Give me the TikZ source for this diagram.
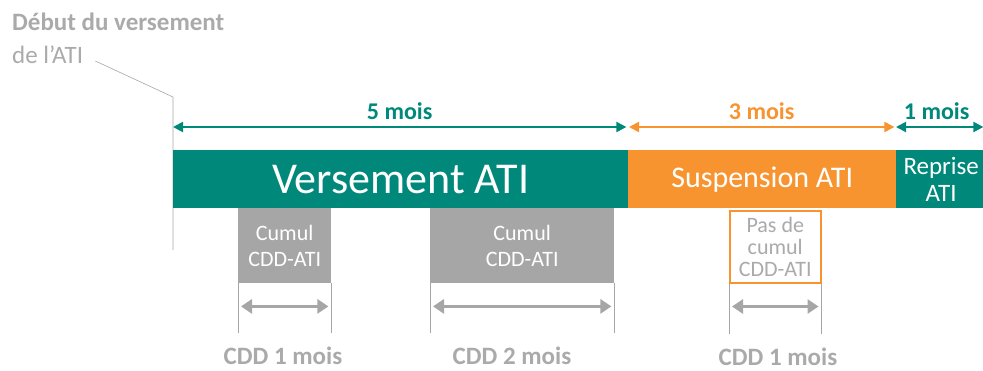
\documentclass[tikz,border=0pt]{standalone}
\usepackage{fontspec}
\setmainfont{Carlito}
\usetikzlibrary{arrows.meta,positioning}
\definecolor{atiteal}{RGB}{0,137,123}
\definecolor{atiorange}{RGB}{247,148,48}
\definecolor{atigray}{RGB}{166,166,166}
\definecolor{atitext}{RGB}{170,170,170}
\newcommand{\fs}[2]{\fontsize{#1}{#2}\selectfont}

\begin{document}
\begin{tikzpicture}[x=1pt, y=-1pt, >={Triangle[length=10pt,width=10pt]},
  bar/.style={inner sep=0pt, minimum height=58pt, text=white, align=center, anchor=north west},
  cumulbox/.style={inner sep=0pt, minimum height=75pt, fill=atigray, text=white, align=center, anchor=north west, font=\fs{22}{26}},
  span/.style={<->, line width=2pt},
  cdd/.style={{Triangle[length=11pt,width=14pt]}-{Triangle[length=11pt,width=14pt]}, atigray, line width=3pt, shorten <=3pt, shorten >=3pt},
  tick/.style={atigray, line width=0.6pt},
  mois/.style={above, font=\fs{24}{28}\bfseries, inner sep=2pt},
  cddlabel/.style={text=atitext, font=\fs{25}{28}\bfseries, inner sep=0pt}
]
  \useasboundingbox (0,0) rectangle (983,370);

  % Start of payment
  \node[anchor=west, text=atitext, font=\fs{25}{28}\bfseries, inner sep=0pt] (debut) at (12,22) {Début du versement};
  \node[anchor=west, text=atitext, font=\fs{25}{28}, inner sep=0pt] (delati) at (12,55) {de l’ATI};
  \coordinate (coude) at (173,97);
  \draw[tick] ([xshift=12pt,yshift=-6pt]delati.east) -- (coude) -- (173,250);

  % The three periods
  \node[bar, fill=atiteal, minimum width=455pt, font=\fs{44}{48}] (versement) at (173,150) {Versement ATI};
  \node[bar, fill=atiorange, minimum width=268pt, font=\fs{30}{34}] (suspension) at (628,150) {Suspension ATI};
  \node[bar, fill=atiteal, minimum width=90pt, font=\fs{25}{27}] (reprise) at (896,150) {Reprise\\ATI};

  % Durations above
  \draw[span, atiteal] ([yshift=23pt]versement.north west) -- ([yshift=23pt,xshift=-2pt]versement.north east)
    node[mois, midway, text=atiteal, yshift=4pt] {5 mois};
  \draw[span, atiorange] ([yshift=23pt,xshift=1pt]suspension.north west) -- ([yshift=23pt,xshift=-2pt]suspension.north east)
    node[mois, midway, text=atiorange, yshift=4pt] {3 mois};
  \draw[span, atiteal] ([yshift=23pt]reprise.north west) -- ([yshift=23pt,xshift=-3pt]reprise.north east)
    node[mois, midway, text=atiteal, yshift=4pt, xshift=-3pt] {1 mois};

  % Fixed-term contracts
  \node[cumulbox, minimum width=93pt] (cdd1) at (238,208) {Cumul\\CDD-ATI};
  \node[cumulbox, minimum width=184pt] (cdd2) at (430,208) {Cumul\\CDD-ATI};
  \node[cumulbox, minimum width=91pt, minimum height=72pt, fill=white, draw=atiorange, line width=1.5pt,
    text=atitext, font=\fs{22}{22}] (cdd3) at (729,210) {Pas de\\cumul\\CDD-ATI};

  \foreach \c in {cdd1,cdd2,cdd3} {
    \coordinate (\c-bl) at ([yshift=-50pt]\c.south west);
    \coordinate (\c-br) at ([yshift=-50pt]\c.south east);
    \draw[tick] (\c.south west) -- (\c-bl);
    \draw[tick] (\c.south east) -- (\c-br);
    \draw[cdd] ([yshift=27pt]\c-bl) -- ([yshift=27pt]\c-br);
  }

  \node[cddlabel] (dur1) at (283,356) {CDD 1 mois};
  \node[cddlabel] (dur2) at (512,356) {CDD 2 mois};
  \node[cddlabel] (dur3) at (778,357) {CDD 1 mois};
\end{tikzpicture}
\end{document}
